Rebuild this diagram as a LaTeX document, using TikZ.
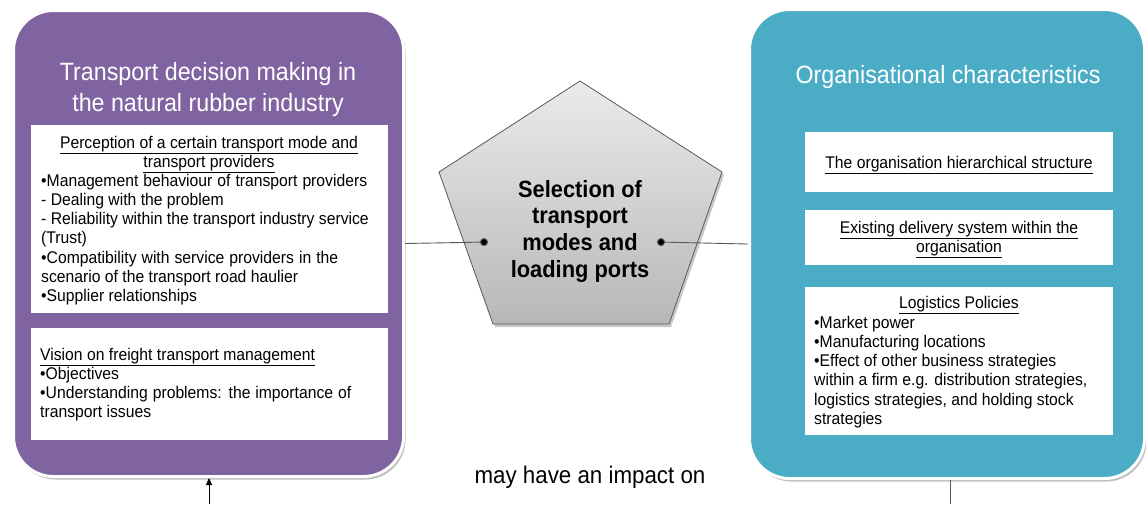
\documentclass[tikz,border=0pt]{standalone}
\usepackage{fontspec}
\setmainfont{Liberation Sans}[FakeStretch=0.93]
\usetikzlibrary{shadows,arrows.meta}
\definecolor{purpleC}{HTML}{8064A2}
\definecolor{tealC}{HTML}{4BACC6}
\definecolor{lineC}{HTML}{595959}
\newcommand{\fstrut}[1]{\rule{0pt}{#1pt}}
\newcommand{\jline}[2]{\makebox[#1pt][s]{#2}}
\tikzset{
  bigbox/.style={rectangle, rounded corners=40pt, draw=white, line width=3pt, inner sep=0pt, anchor=north west,
    drop shadow={shadow xshift=2pt, shadow yshift=-3pt, opacity=0.25, fill=black}},
  whitebox/.style={rectangle, fill=white, draw=none, inner sep=0pt, anchor=north west},
  bodytext/.style={inner sep=0pt, font=\fontsize{16.9}{19.2}\selectfont, align=left, anchor=north west},
  headtext/.style={inner sep=0pt, font=\fontsize{16.9}{19.2}\selectfont, align=center, anchor=north},
  titletext/.style={inner sep=0pt, text=white, font=\fontsize{25}{31.5}\selectfont, align=center, anchor=north},
  seltext/.style={inner sep=0pt, font=\fontsize{23.5}{26.7}\selectfont\bfseries, align=center, anchor=north},
  conn/.style={draw=lineC, line width=0.9pt, -{Circle[length=8pt, fill=black]}},
}
\begin{document}
\begin{tikzpicture}[x=1pt, y=-1pt]
\fill[white] (0,0) rectangle (1146,504);
\useasboundingbox (0,0) rectangle (1146,504);

% big boxes
\node[bigbox, fill=purpleC, minimum width=390pt, minimum height=466pt] (pbox) at (12,9) {};
\node[bigbox, fill=tealC, minimum width=395pt, minimum height=469pt] (tbox) at (748,8) {};

% titles
\node[titletext] (ptitle) at (208,60) {\fstrut{20}Transport decision making in\\the natural rubber industry};
\node[titletext] (ttitle) at (948,63) {\fstrut{20}Organisational characteristics};

% purple white boxes
\node[whitebox, minimum width=357pt, minimum height=188pt] (pw1) at (31,125) {};
\node[whitebox, minimum width=357pt, minimum height=112pt] (pw2) at (31,328) {};

\node[headtext] (pw1h) at (209,134.5) {\fstrut{13.5}\underline{Perception of a certain transport mode and}\\\underline{transport providers}};
\node[bodytext] (pw1b) at (41,172.5) {\fstrut{13.5}\jline{326}{•Management behaviour of transport providers}\\
- Dealing with the problem\\
- Reliability within the transport industry service\\
(Trust)\\
\jline{297}{•Compatibility with service providers in the}\\
scenario of the transport road haulier\\
•Supplier relationships};
\node[bodytext] (pw2b) at (40,346.5) {\fstrut{13.5}\underline{Vision on freight transport management}\\
•Objectives\\
\jline{311}{•Understanding problems: the importance of}\\
transport issues};

% teal white boxes
\node[whitebox, minimum width=308pt, minimum height=60pt] (tw1) at (805,132) {};
\node[whitebox, minimum width=308pt, minimum height=55pt] (tw2) at (805,210) {};
\node[whitebox, minimum width=308pt, minimum height=148pt] (tw3) at (805,287) {};

\node[headtext] (tw1h) at (959,154.5) {\fstrut{13.5}\underline{The organisation hierarchical structure}};
\node[headtext] (tw2h) at (959,219.5) {\fstrut{13.5}\underline{Existing delivery system within the}\\\underline{organisation}};
\node[headtext] (tw3h) at (959,294.5) {\fstrut{13.5}\underline{Logistics Policies}};
\node[bodytext] (tw3b) at (814,314.5) {\fstrut{13.5}•Market power\\
•Manufacturing locations\\
•Effect of other business strategies\\
within a firm e.g. distribution strategies,\\
logistics strategies, and holding stock\\
strategies};

% pentagon
\fill[black, opacity=0.22] (582,84) -- (724,175) -- (671,327) -- (495,327) -- (441,175) -- cycle;
\shade[top color=white!92!black, bottom color=white!72!black, draw=lineC, line width=0.8pt]
  (580,81) -- (722,172) -- (669,324) -- (493,324) -- (439,172) -- cycle;
\node[seltext] (sel) at (580,178) {\fstrut{19}Selection of\\transport\\modes and\\loading ports};

% connectors
\coordinate (dl) at (488,242);
\coordinate (dr) at (657,242);
\draw[conn] (pbox.east) -- (dl);
\draw[conn] (tbox.west) -- (dr);

\coordinate (ab) at (209,504);
\coordinate (tb) at (950,504);
\draw[black, line width=0.9pt, -{Triangle[length=7pt, width=6pt]}] (ab) -- (ab |- pbox.south);
\draw[lineC, line width=0.9pt] (tbox.south -| tb) -- (tb);

\node[inner sep=0pt, anchor=base, font=\fontsize{24}{28}\selectfont] (impact) at (590,483) {may have an impact on};
\end{tikzpicture}
\end{document}
